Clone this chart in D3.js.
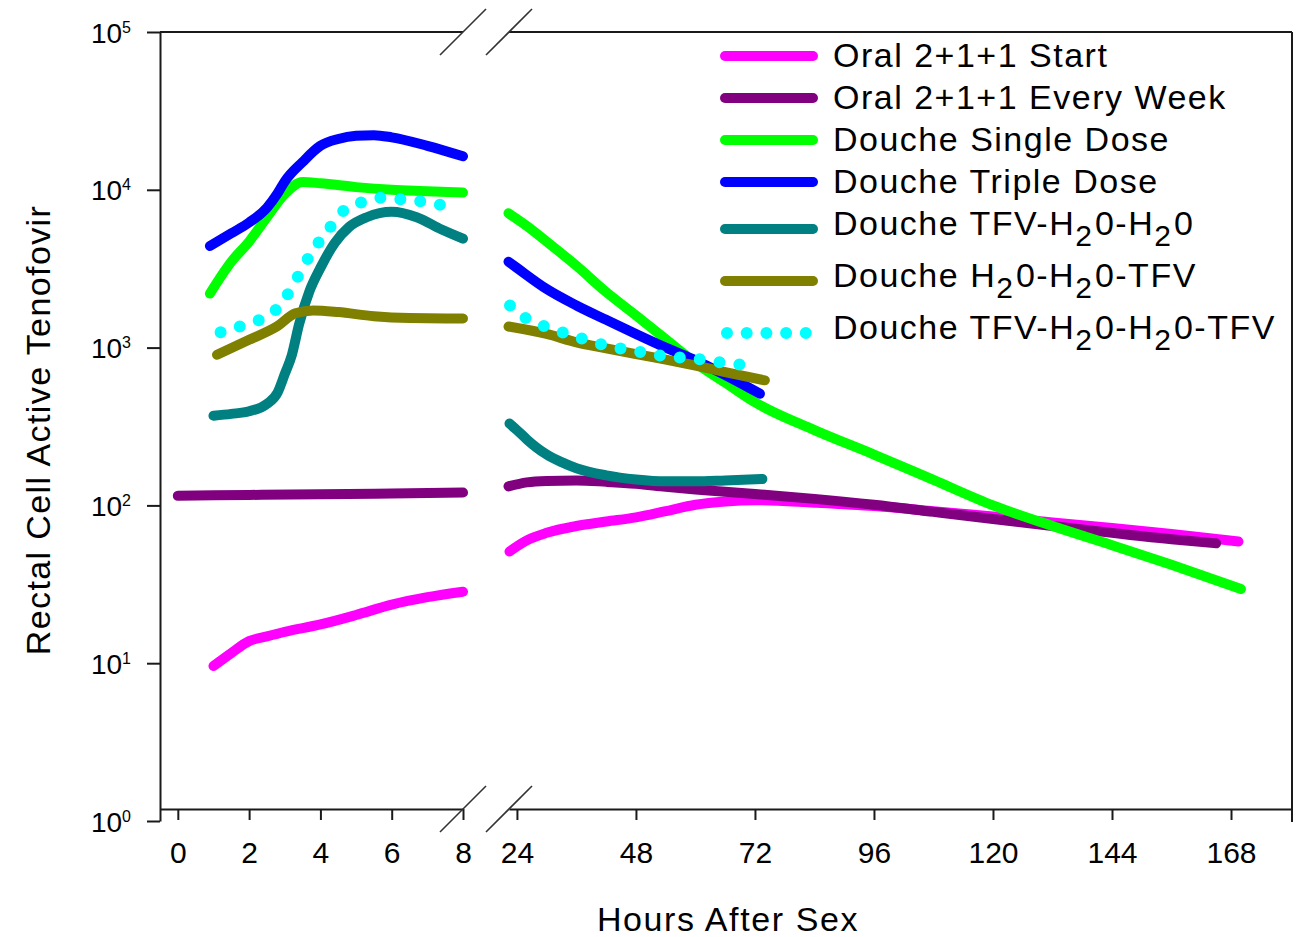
<!DOCTYPE html>
<html>
<head>
<meta charset="utf-8">
<style>
  body { margin: 0; background: #fff; }
  svg { display: block; font-family: "Liberation Sans", Arial, sans-serif; }
</style>
</head>
<body>
<svg width="1307" height="937"></svg>
<script src="https://d3js.org/d3.v7.min.js"></script>
<script>

  // [hours, rectal cell active tenofovir]; "early" = 0-8 h panel, "late" = 24-168 h panel
  var oralStartEarly = [[1, 9.6], [1.5, 11.6], [2, 13.8], [2.5, 14.8], [3, 15.8], [4, 17.6], [5, 20.2], [6, 23.5], [7, 26.2], [8, 28.4]];
  var oralStartLate = [[22.5, 51], [24, 55], [26, 60], [30, 67], [36, 74], [42, 79], [48, 84], [54, 92], [60, 101], [66, 106],
    [72, 108], [84, 104], [96, 99], [108, 92], [120, 85], [132, 78], [144, 72], [156, 66], [169.5, 59]];

  var oralWeekEarly = [[0, 115], [2, 116.5], [4, 117.5], [6, 119], [8, 120.5]];
  var oralWeekLate = [[22.3, 132], [26, 140], [30, 143], [36, 144], [42, 141], [48, 137], [54, 131], [60, 126], [66, 122],
    [72, 118], [84, 110], [96, 101], [108, 91], [120, 82], [132, 74], [144, 67], [156, 61], [165, 57.5]];

  var singleEarly = [[0.9, 2200], [1.5, 3500], [2, 4700], [2.5, 6700], [3, 9400], [3.5, 11200], [4, 11000], [5, 10400],
    [6, 10000], [7, 9800], [8, 9600]];
  var singleLate = [[22.3, 7100], [26, 5900], [30, 4700], [36, 3300], [42, 2250], [48, 1600], [54, 1130], [60, 800],
    [66, 600], [72, 450], [84, 300], [96, 210], [108, 145], [120, 100], [132, 74], [144, 56], [156, 42], [170, 29.5]];

  var tripleEarly = [[0.9, 4400], [1.5, 5300], [2, 6200], [2.5, 7700], [2.8, 9500], [3, 11300], [3.5, 15000], [4, 19000],
    [4.5, 21000], [5, 22000], [5.5, 22200], [6, 21500], [7, 19000], [8, 16300]];
  var tripleLate = [[22.3, 3500], [24, 3200], [30, 2350], [36, 1850], [42, 1500], [48, 1220], [54, 1000], [60, 830],
    [66, 670], [73, 510]];

  var tfvWaterEarly = [[1, 370], [1.5, 380], [2, 395], [2.5, 440], [2.8, 520], [3, 680], [3.2, 900], [3.4, 1400],
    [3.7, 2300], [4, 3200], [4.4, 4600], [4.8, 5800], [5.3, 6700], [6, 7250], [6.7, 6700], [7.4, 5600], [8, 4900]];
  var tfvWaterLate = [[22.5, 330], [24, 300], [26, 262], [28, 232], [30, 210], [33, 188], [36, 172], [42, 155], [48, 146],
    [54, 142], [60, 142], [66, 144], [73.5, 147]];

  var waterTfvEarly = [[1.1, 900], [2, 1120], [2.8, 1370], [3.3, 1650], [3.8, 1720], [4.5, 1680], [5.5, 1580], [6.5, 1540], [8, 1530]];
  var waterTfvLate = [[22.3, 1360], [30, 1220], [36, 1080], [42, 990], [48, 910], [54, 840], [60, 770], [66, 700], [74, 620]];

  var tfvBothEarly = [[1.2, 1250], [1.7, 1350], [2.3, 1500], [2.8, 1780], [3.2, 2400], [3.5, 3200], [3.8, 4150],
    [4.2, 5500], [4.6, 7200], [5.2, 8400], [5.7, 8900], [6.3, 8700], [6.9, 8400], [7.4, 8000], [7.7, 7700]];
  var tfvBothLate = [[22.6, 1850], [26, 1520], [30, 1350], [36, 1170], [42, 1030], [48, 950], [54, 880], [60, 850],
    [66, 800], [71, 770]];

  // "_2" marks a subscript 2
  var seriesNames = ["Oral 2+1+1 Start", "Oral 2+1+1 Every Week", "Douche Single Dose", "Douche Triple Dose",
    "Douche TFV-H_20-H_20", "Douche H_20-H_20-TFV", "Douche TFV-H_20-H_20-TFV"];
  var seriesColors = ["#ff00ff", "#800080", "#00ff00", "#0000ff", "#008080", "#808000", "#00ffff"];
  var earlyData = [oralStartEarly, oralWeekEarly, singleEarly, tripleEarly, tfvWaterEarly, waterTfvEarly, tfvBothEarly];
  var lateData = [oralStartLate, oralWeekLate, singleLate, tripleLate, tfvWaterLate, waterTfvLate, tfvBothLate];

  var earlyTicks = [0, 2, 4, 6, 8];
  var lateTicks = [24, 48, 72, 96, 120, 144, 168];
  var yTicks = [1, 10, 100, 1000, 10000, 100000];

  var svg = d3.select("svg"),
    ink = "#1a1a1a",
    xAxisY = 809;

  var xEarly = d3.scaleLinear().domain([-0.5, 8]).range([160, 463]);
  var xLate = d3.scaleLinear().domain([22.4, 180.3]).range([509, 1292]);
  var y = d3.scaleLog().domain([1, 1e5]).range([821, 32]);

  function styleAxis(g) {
    g.attr("font-size", null).attr("font-family", null);
    g.select(".domain").attr("stroke", ink).attr("stroke-width", 2);
    g.selectAll(".tick line").attr("stroke", ink).attr("stroke-width", 2);
    g.selectAll(".tick text").attr("fill", "#000").style("font-size", "30px");
  }

  // x axes (two panels)
  svg.append("g")
    .attr("transform", "translate(0," + xAxisY + ")")
    .call(d3.axisBottom(xEarly).tickValues(earlyTicks).tickSize(11).tickSizeOuter(0).tickPadding(22))
    .call(styleAxis);

  svg.append("g")
    .attr("transform", "translate(0," + xAxisY + ")")
    .call(d3.axisBottom(xLate).tickValues(lateTicks).tickSize(11).tickSizeOuter(0).tickPadding(22))
    .call(styleAxis);

  // y axis with 10^n labels
  var yAxisG = svg.append("g")
    .attr("transform", "translate(" + xEarly.range()[0] + ",0)")
    .call(d3.axisLeft(y).tickValues(yTicks).tickSize(13).tickSizeOuter(0).tickFormat(""))
    .call(styleAxis);

  yAxisG.selectAll(".tick text")
    .attr("x", -29)
    .attr("dy", "0.36em")
    .style("font-size", "28px")
    .each(function (d) {
      var t = d3.select(this);
      t.append("tspan").text("10");
      t.append("tspan").attr("dy", -10).style("font-size", "16px").text(Math.round(Math.log10(d)));
    });

  // frame: top edges and right edge
  svg.append("line")
    .attr("x1", xEarly.range()[0]).attr("x2", xEarly.range()[1])
    .attr("y1", y(1e5)).attr("y2", y(1e5))
    .attr("stroke", ink).attr("stroke-width", 2);
  svg.append("line")
    .attr("x1", xLate.range()[0]).attr("x2", xLate.range()[1])
    .attr("y1", y(1e5)).attr("y2", y(1e5))
    .attr("stroke", ink).attr("stroke-width", 2);
  svg.append("line")
    .attr("x1", xLate.range()[1]).attr("x2", xLate.range()[1])
    .attr("y1", y(1e5)).attr("y2", y(1) + 1)
    .attr("stroke", ink).attr("stroke-width", 2);

  // axis break marks
  [xEarly.range()[1], xLate.range()[0]].forEach(function (bx) {
    [y(1e5), xAxisY].forEach(function (by) {
      svg.append("line")
        .attr("x1", bx - 23).attr("y1", by + 23)
        .attr("x2", bx + 23).attr("y2", by - 23)
        .attr("stroke", "#333").attr("stroke-width", 1.6);
    });
  });

  // series
  function lineFor(xs) {
    return d3.line()
      .x(function (d) { return xs(d[0]); })
      .y(function (d) { return y(d[1]); })
      .curve(d3.curveMonotoneX);
  }

  function styleSeries(path, i) {
    var dotted = i === 6;
    path.attr("fill", "none")
      .attr("stroke", seriesColors[i])
      .attr("stroke-width", dotted ? 12 : 10)
      .attr("stroke-linecap", "round")
      .attr("stroke-linejoin", "round")
      .attr("stroke-dasharray", dotted ? "0 20" : null);
  }

  seriesNames.forEach(function (name, i) {
    svg.append("path").datum(earlyData[i]).attr("d", lineFor(xEarly)).call(styleSeries, i);
    svg.append("path").datum(lateData[i]).attr("d", lineFor(xLate)).call(styleSeries, i);
  });

  // legend
  var legend = svg.append("g").style("font-size", "34px").style("letter-spacing", "1.5px");
  var baseline = 67;
  seriesNames.forEach(function (name, i) {
    var parts = name.split(/_(\d)/),
      hasSub = parts.length > 1;
    if (i > 0) baseline += 42 + (seriesNames[i - 1].indexOf("_") >= 0 ? 10 : 0);
    var ly = baseline - (hasSub ? 6 : 11);
    var dotted = i === 6;
    legend.append("path")
      .attr("d", dotted ? "M727," + ly + "H806" : "M725," + ly + "H813")
      .call(styleSeries, i)
      .attr("stroke-dasharray", dotted ? "0 19.7" : null);
    var t = legend.append("text").attr("x", 833).attr("y", baseline).attr("fill", "#000");
    parts.forEach(function (p, k) {
      if (k % 2 === 1) {
        t.append("tspan").attr("dy", 11).style("font-size", "30px").style("letter-spacing", "3px").text(p);
      } else if (p.length) {
        t.append("tspan").attr("dy", k > 0 ? -11 : null).text(p);
      }
    });
  });

  // axis titles
  svg.append("text")
    .attr("x", 728).attr("y", 931)
    .attr("text-anchor", "middle")
    .style("font-size", "34px").style("letter-spacing", "1.6px")
    .text("Hours After Sex");

  svg.append("text")
    .attr("transform", "translate(50,430) rotate(-90)")
    .attr("text-anchor", "middle")
    .style("font-size", "34px").style("letter-spacing", "1.4px")
    .text("Rectal Cell Active Tenofovir");

</script>
</body>
</html>
